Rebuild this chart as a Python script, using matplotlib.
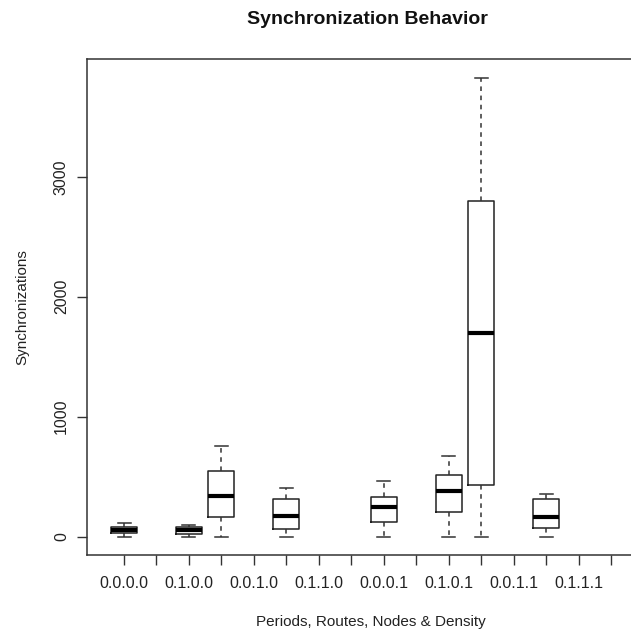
import matplotlib
matplotlib.use("Agg")
import matplotlib.pyplot as plt
import numpy as np

# 16 groups (R boxplot style); only every other label fits, the rest are dropped
positions = np.arange(1, 17)
tick_labels = ["0.0.0.0", "", "0.1.0.0", "", "0.0.1.0", "", "0.1.1.0", "",
               "0.0.0.1", "", "0.1.0.1", "", "0.0.1.1", "", "0.1.1.1", ""]

# five-number summaries (nan = empty group)
nan = np.nan
whisker_low = [0, nan, 0, 0, nan, 0, nan, nan, 0, nan, 0, 0, nan, 0, nan, nan]
q1 = [30, nan, 25, 165, nan, 65, nan, nan, 122, nan, 208, 433, nan, 75, nan, nan]
median = [56, nan, 52, 335, nan, 175, nan, nan, 250, nan, 378, 1700, nan, 160, nan, nan]
q3 = [81, nan, 78, 550, nan, 315, nan, nan, 331, nan, 514, 2803, nan, 317, nan, nan]
whisker_high = [114, nan, 94, 755, nan, 405, nan, nan, 467, nan, 670, 3828, nan, 355, nan, nan]

FONT = "Liberation Sans"
plt.rcParams["font.family"] = [FONT, "DejaVu Sans"]

W, H = 631, 633
fig = plt.figure(figsize=(W / 100, H / 100), dpi=100)
# axes box runs past the right edge of the image, as in the original
ax = fig.add_axes([87 / W, 78 / H, 561 / W, 496 / H])

stats, pos = [], []
for i, p in enumerate(positions):
    if np.isnan(median[i]):
        continue
    stats.append(dict(whislo=whisker_low[i], q1=q1[i], med=median[i],
                      q3=q3[i], whishi=whisker_high[i], fliers=[]))
    pos.append(p)

ax.bxp(stats, positions=pos, widths=0.8, showfliers=False,
       boxprops=dict(color="#222222", linewidth=1.1),
       medianprops=dict(color="black", linewidth=3.0, solid_capstyle="butt"),
       whiskerprops=dict(color="#333333", linewidth=1.1, linestyle=(0, (3, 3))),
       capprops=dict(color="#333333", linewidth=1.1),
       capwidths=0.4)

ax.set_xlim(-0.14, 17.14)
ax.set_ylim(-153, 3983)

ax.set_xticks(positions)
ax.set_xticklabels(tick_labels, fontsize=11.5, color="#222222")
ax.set_yticks([0, 1000, 2000, 3000])
ax.set_yticklabels(["0", "1000", "2000", "3000"], fontsize=11.5, rotation=90,
                   va="center", color="#222222")
ax.tick_params(axis="both", length=7, width=1.0, color="#333333", direction="out")
ax.tick_params(axis="x", pad=8)
ax.tick_params(axis="y", pad=6)
for s in ax.spines.values():
    s.set_color("#333333")
    s.set_linewidth(1.1)

fig.text(367 / W, 1 - 20 / H, "Synchronization Behavior", ha="center", va="center",
         fontsize=14, fontweight="bold", color="#111111")
fig.text(371 / W, 1 - 622 / H, "Periods, Routes, Nodes & Density", ha="center",
         va="center", fontsize=11, color="#222222")
fig.text(22 / W, 1 - 307 / H, "Synchronizations", ha="center", va="center",
         rotation=90, fontsize=11, color="#222222")

fig.savefig("out.png", dpi=100, facecolor="white")
